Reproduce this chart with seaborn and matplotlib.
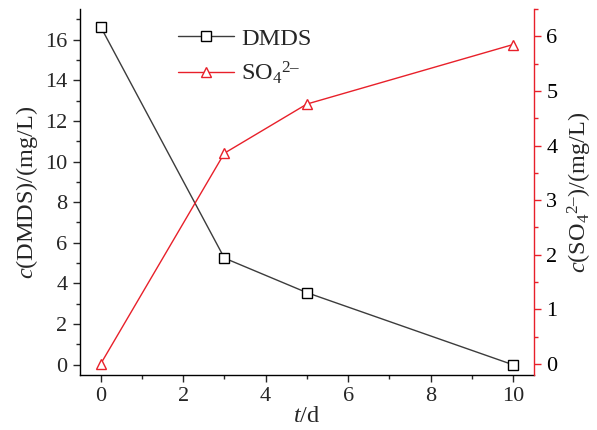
import matplotlib
matplotlib.use("Agg")
import matplotlib.pyplot as plt
import seaborn as sns
import pandas as pd
from matplotlib.ticker import MultipleLocator

t_days = [0, 3, 5, 10]
dmds = [16.63, 5.25, 3.55, 0.0]
so4 = [0.0, 3.86, 4.76, 5.85]

sns.set_style("ticks")
plt.rcParams['font.family'] = ['Liberation Serif', 'DejaVu Serif']
plt.rcParams['mathtext.fontset'] = 'custom'
plt.rcParams['mathtext.rm'] = 'Liberation Serif'
plt.rcParams['mathtext.it'] = 'Liberation Serif:italic'

df1 = pd.DataFrame({"t": t_days, "v": dmds})
df2 = pd.DataFrame({"t": t_days, "v": so4})

fig = plt.figure(figsize=(5.97, 4.30), dpi=100)
ax = fig.add_axes([0.134, 0.128, 0.76, 0.851])
ax2 = ax.twinx()

gray = "#3c3c3c"
red = "#e8202a"
sns.lineplot(data=df1, x="t", y="v", ax=ax, color=gray, lw=1.0, marker="s",
             markersize=7, markerfacecolor="white", markeredgecolor="black",
             markeredgewidth=1.0, label="DMDS", legend=False)
sns.lineplot(data=df2, x="t", y="v", ax=ax2, color=red, lw=1.0, marker="^",
             markersize=7, markerfacecolor="white", markeredgecolor=red,
             markeredgewidth=1.0, label="SO$_4$$^{2\u2013}$", legend=False)

ax.set_xlim(-0.5, 10.5)
ax.set_ylim(-0.5, 17.5)
ax2.set_ylim(-0.2, 6.5)

ax.xaxis.set_major_locator(MultipleLocator(2))
ax.xaxis.set_minor_locator(MultipleLocator(1))
ax.yaxis.set_major_locator(MultipleLocator(2))
ax.yaxis.set_minor_locator(MultipleLocator(1))
ax2.yaxis.set_major_locator(MultipleLocator(1))
ax2.yaxis.set_minor_locator(MultipleLocator(0.5))

fs = 16
lfs = 17.5
for a in (ax, ax2):
    a.tick_params(which="major", direction="out", length=5, width=1.0, labelsize=fs, pad=4)
    a.tick_params(which="minor", direction="out", length=3, width=1.0)
    a.spines["top"].set_visible(False)

ax.spines["right"].set_visible(False)
for s in ("left", "bottom"):
    ax.spines[s].set_color("black")
    ax.spines[s].set_linewidth(1.0)
ax2.spines["left"].set_visible(False)
ax2.spines["bottom"].set_visible(False)
ax2.spines["right"].set_color(red)
ax2.spines["right"].set_linewidth(1.0)
ax2.tick_params(axis="y", which="both", colors=red, labelcolor="black")

ax.set_xlabel("$\\it{t}$/d", fontsize=lfs, labelpad=0)
ax.set_ylabel("$\\it{c}$(DMDS)/(mg/L)", fontsize=lfs, labelpad=4)
ax2.set_ylabel("$\\it{c}$(SO$_4$$^{2\u2013}$)/(mg/L)", fontsize=lfs, labelpad=6)

h1, lab1 = ax.get_legend_handles_labels()
h2, lab2 = ax2.get_legend_handles_labels()
ax.legend(h1 + h2, lab1 + lab2, loc="upper left", bbox_to_anchor=(0.167, 1.008),
          frameon=False, fontsize=lfs, handlelength=2.3, handletextpad=0.3,
          labelspacing=0.4)

fig.savefig("out.png", dpi=100)
